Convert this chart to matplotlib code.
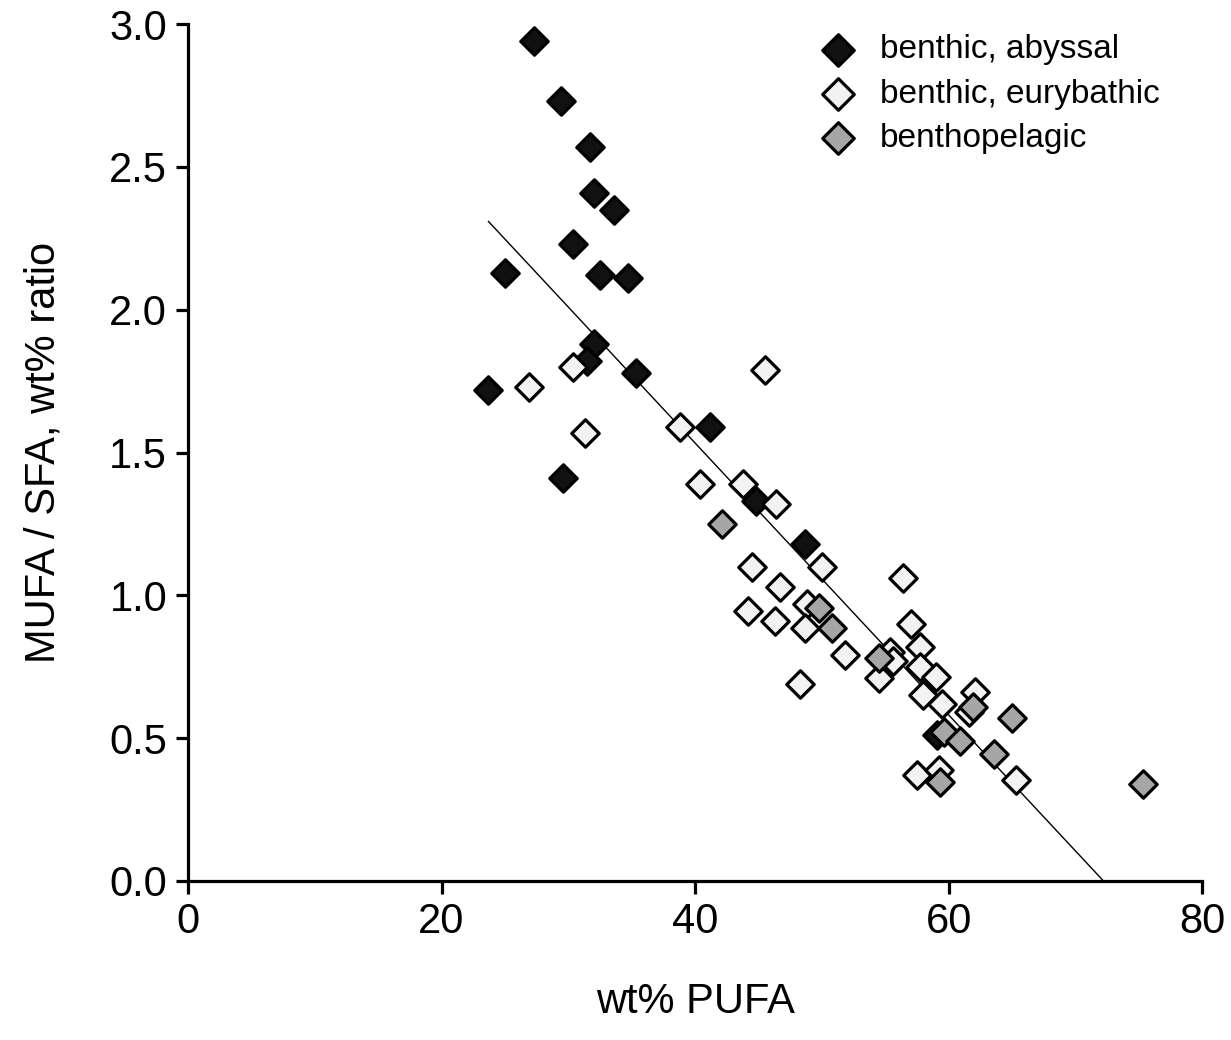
"""MUFA/SFA ratio against wt% PUFA for deep-sea fish groups."""

import matplotlib.pyplot as plt
import numpy as np

plt.rcParams["font.family"] = ["Liberation Sans", "DejaVu Sans"]

# benthic, abyssal
abyssal_x = [27.3, 29.4, 31.7, 32.0, 33.6, 30.4, 25.0, 32.5, 34.7, 32.0,
             31.5, 35.3, 23.7, 29.6, 41.2, 44.8, 48.7, 59.1]
abyssal_y = [2.94, 2.73, 2.57, 2.41, 2.35, 2.23, 2.13, 2.12, 2.11, 1.88,
             1.82, 1.78, 1.72, 1.41, 1.59, 1.33, 1.18, 0.51]

# benthic, eurybathic
eury_x = [30.4, 26.9, 31.3, 45.5, 38.8, 40.4, 43.8, 46.4, 44.5, 50.0,
          46.7, 48.8, 44.2, 46.3, 48.7, 51.8, 48.3, 56.4, 57.0, 57.7,
          55.4, 55.6, 54.5, 57.7, 59.0, 58.0, 59.5, 62.1, 61.6, 57.5,
          59.2, 65.3]
eury_y = [1.80, 1.73, 1.57, 1.79, 1.59, 1.39, 1.39, 1.32, 1.10, 1.10,
          1.03, 0.97, 0.945, 0.91, 0.885, 0.79, 0.69, 1.06, 0.90, 0.82,
          0.80, 0.77, 0.71, 0.75, 0.715, 0.65, 0.62, 0.66, 0.59, 0.37,
          0.39, 0.355]

# benthopelagic
pelagic_x = [42.1, 49.8, 50.8, 54.5, 61.9, 65.0, 59.6, 60.9, 63.6, 59.3, 75.3]
pelagic_y = [1.25, 0.955, 0.885, 0.78, 0.61, 0.57, 0.52, 0.49, 0.445, 0.345, 0.34]

# trend line
trend_slope = -0.0476
trend_intercept = 3.437

fig = plt.figure(figsize=(12.31, 10.4), dpi=100)
ax = fig.add_axes([0.1527, 0.1529, 0.824, 0.824])

all_x = np.array(abyssal_x + eury_x + pelagic_x)
line_x = np.array([all_x.min(), all_x.max()])
ax.plot(line_x, trend_intercept + trend_slope * line_x, color="black",
        linewidth=1.0, zorder=2)

marker_kw = dict(marker="D", s=195, edgecolors="black", linewidths=2.3, zorder=3,
                 clip_on=False)
ax.scatter(abyssal_x, abyssal_y, facecolors="#111111", label="benthic, abyssal",
           **marker_kw)
ax.scatter(eury_x, eury_y, facecolors="#f2f2f2", label="benthic, eurybathic",
           **marker_kw)
ax.scatter(pelagic_x, pelagic_y, facecolors="#a6a6a6", label="benthopelagic",
           **marker_kw)

ax.set_xlim(0, 80)
ax.set_ylim(0, 3.0)
ax.set_xticks([0, 20, 40, 60, 80])
ax.set_yticks(np.arange(0, 3.01, 0.5))
ax.set_yticklabels([f"{v:.1f}" for v in np.arange(0, 3.01, 0.5)])

for side in ["top", "right"]:
    ax.spines[side].set_visible(False)
for side in ["left", "bottom"]:
    ax.spines[side].set_linewidth(2.3)
ax.tick_params(direction="out", length=9, width=2.3, labelsize=30, pad=6)

ax.set_xlabel("wt% PUFA", fontsize=30, labelpad=29)
ax.set_ylabel("MUFA / SFA, wt% ratio", fontsize=30, labelpad=33)

fig.legend(loc="upper left", bbox_to_anchor=(0.6645, 0.967), frameon=False,
           fontsize=24, markerscale=1.15, handlelength=1.2, handletextpad=0.65,
           labelspacing=0.4, borderpad=0, borderaxespad=0)

fig.savefig("out.png", dpi=100)
